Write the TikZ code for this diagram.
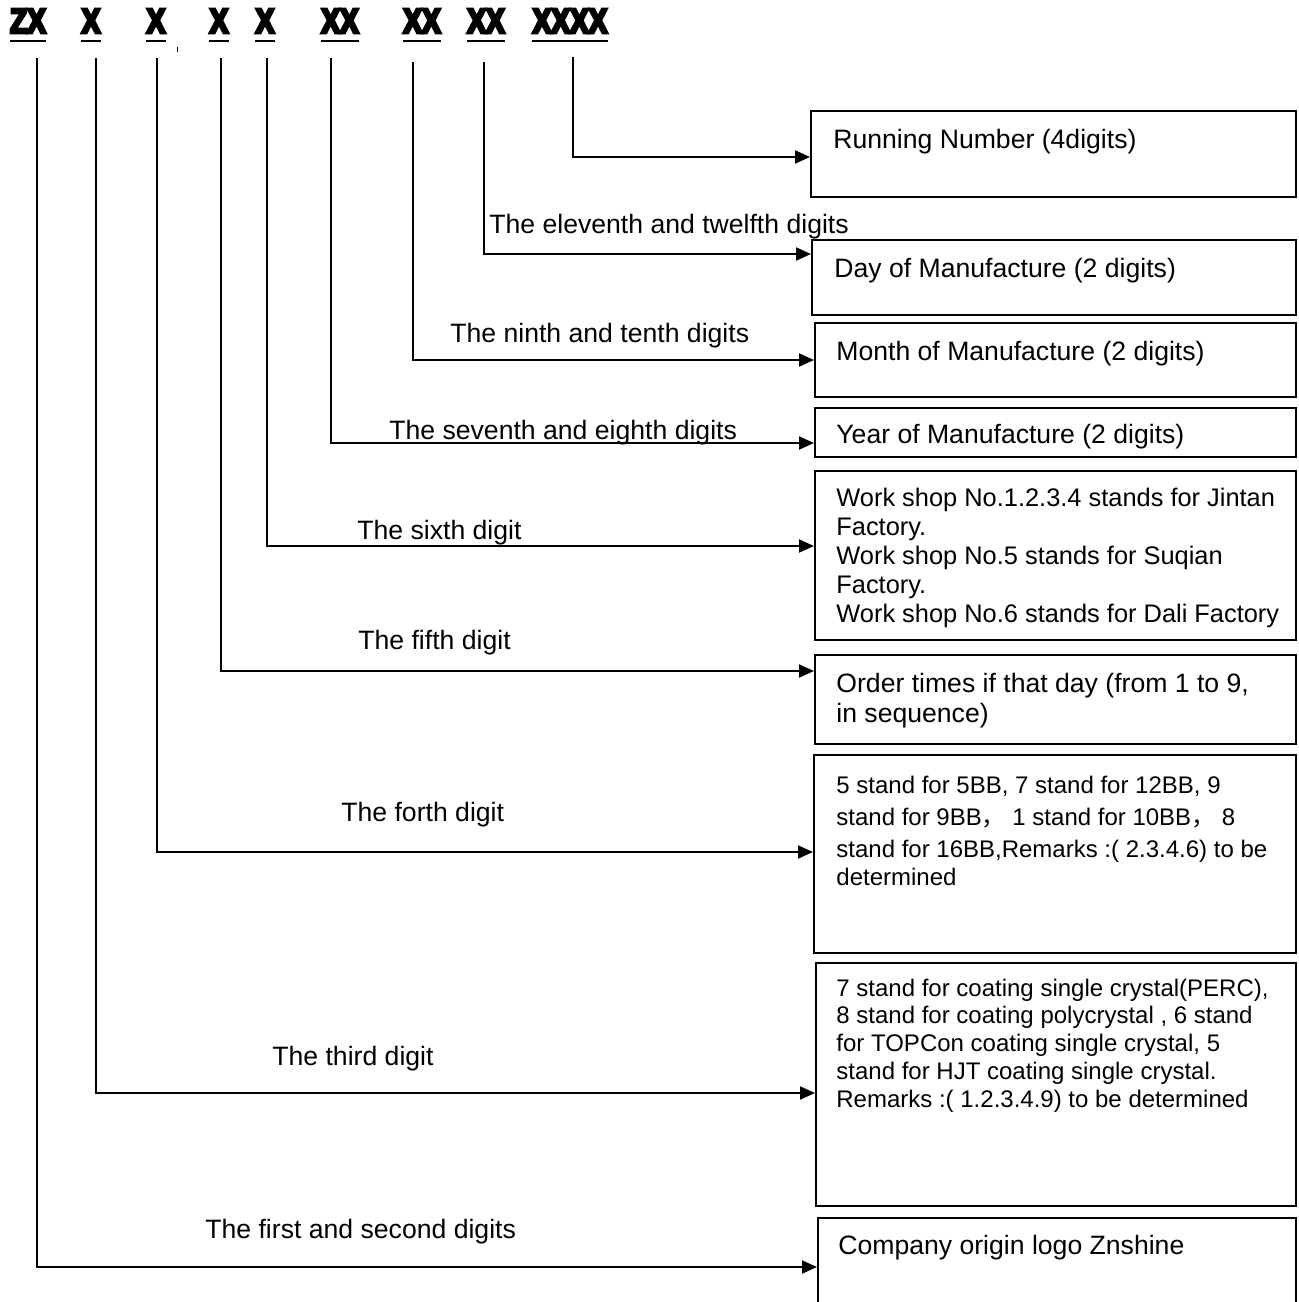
\documentclass[tikz,border=0pt]{standalone}
\usepackage{fontspec}
\setmainfont{Liberation Sans}
\newfontfamily\hdfont{Liberation Sans}[FakeStretch=0.8,BoldFeatures={FakeBold=8}]
\newfontfamily\cjk{Noto Sans CJK SC}
\usepackage{tikz}
\usetikzlibrary{arrows.meta, positioning}

\begin{document}
\begin{tikzpicture}[
    x=0.5pt, y=-0.5pt,
    every node/.style={font=\fontsize{13.3}{14.5}\selectfont},
    box/.style={rectangle, draw, line width=1pt, inner sep=0pt},
    conn/.style={line width=1pt, -{Triangle[length=7.5pt,width=6.5pt]}},
    digit/.style={font=\fontsize{17.5}{20}\selectfont\hdfont\bfseries, inner sep=0pt, anchor=base},
    lbl/.style={inner sep=0pt, anchor=base west, align=left}
]
\useasboundingbox (0,0) rectangle (1298,1302);

% serial number groups
\foreach \name/\x/\txt in {zx/28/ZX, da/91/X, db/156/X, dc/219/X, dd/265/X, de/340/XX, df/422/XX, dg/486/XX, dh/570/XXXX} {
    \node[digit] (\name) at (\x,33) {\txt};
    \draw[line width=1pt] ([yshift=-4pt]\name.base west) -- ([yshift=-4pt]\name.base east);
}
\draw[line width=0.5pt] (177,47) -- (177,52);

% ends of the lines under the groups
\foreach \name/\x/\y in {t1/37/58, t2/96/58, t3/157/58, t4/221/58, t5/267/58, t6/331/58, t7/413/62, t8/484/62, t9/573/57} {
    \coordinate (\name) at (\x,\y);
}

% boxes
\node[box, minimum width=242.5pt, minimum height=43pt] (run) at (1053.5,154) {};
\node[box, minimum width=242pt, minimum height=37.5pt] (day) at (1054,277.5) {};
\node[box, minimum width=240.5pt, minimum height=37pt] (month) at (1055.5,360) {};
\node[box, minimum width=240.5pt, minimum height=24.5pt] (year) at (1055.5,432.5) {};
\node[box, minimum width=240.5pt, minimum height=84.5pt] (shop) at (1055.5,555.5) {};
\node[box, minimum width=240.5pt, minimum height=44.5pt] (order) at (1055.5,699.5) {};
\node[box, minimum width=241pt, minimum height=99pt] (busbar) at (1055,854) {};
\node[box, minimum width=240pt, minimum height=121.5pt] (cell) at (1056,1084.5) {};
\node[box, minimum width=239pt, minimum height=51pt] (logo) at (1057,1269) {};

% box texts (base = last line)
\node[lbl] (runtxt) at (833,148) {Running Number (4digits)};
\node[lbl] (daytxt) at (834,277) {Day of Manufacture (2 digits)};
\node[lbl] (monthtxt) at (836,360) {Month of Manufacture (2 digits)};
\node[lbl] (yeartxt) at (836,443) {Year of Manufacture (2 digits)};
\node[lbl, font=\fontsize{12.7}{14.5}\selectfont] (shoptxt) at (836,622) {Work shop No.1.2.3.4 stands for Jintan\\Factory.\\Work shop No.5 stands for Suqian\\Factory.\\Work shop No.6 stands for Dali Factory};
\node[lbl, font=\fontsize{13.3}{15}\selectfont] (ordertxt) at (836,722) {Order times if that day (from 1 to 9,\\in sequence)};
\node[lbl, font=\fontsize{12}{16}\selectfont] (busbartxt) at (836,885) {5 stand for 5BB, 7 stand for 12BB, 9\\stand for 9BB{\cjk ，} 1 stand for 10BB{\cjk ，} 8\\stand for 16BB,Remarks :( 2.3.4.6) to be\\[-2pt]determined};
\node[lbl, font=\fontsize{12}{13.85}\selectfont] (celltxt) at (836,1107) {7 stand for coating single crystal(PERC),\\8 stand for coating polycrystal , 6 stand\\for TOPCon coating single crystal, 5\\stand for HJT coating single crystal.\\Remarks :( 1.2.3.4.9) to be determined};
\node[lbl] (logotxt) at (838,1254) {Company origin logo Znshine};

% digit labels
\node[lbl] (l11) at (489,233) {The eleventh and twelfth digits};
\node[lbl] (l9) at (450,342) {The ninth and tenth digits};
\node[lbl] (l7) at (389,439) {The seventh and eighth digits};
\node[lbl] (l6) at (357,539) {The sixth digit};
\node[lbl] (l5) at (358,649) {The fifth digit};
\node[lbl] (l4) at (341,821) {The forth digit};
\node[lbl] (l3) at (272,1065) {The third digit};
\node[lbl] (l1) at (205,1238) {The first and second digits};

% connectors
\draw[conn] (t9) |- (run.west |- 0,157);
\draw[conn] (t8) |- (day.west |- 0,254);
\draw[conn] (t7) |- (month.west |- 0,360);
\draw[conn] (t6) |- (year.west |- 0,443);
\draw[conn] (t5) |- (shop.west |- 0,546);
\draw[conn] (t4) |- (order.west |- 0,671);
\draw[conn] (t3) |- (busbar.west |- 0,852);
\draw[conn] (t2) |- (cell.west |- 0,1093);
\draw[conn] (t1) |- (logo.west |- 0,1267);

\end{tikzpicture}
\end{document}
